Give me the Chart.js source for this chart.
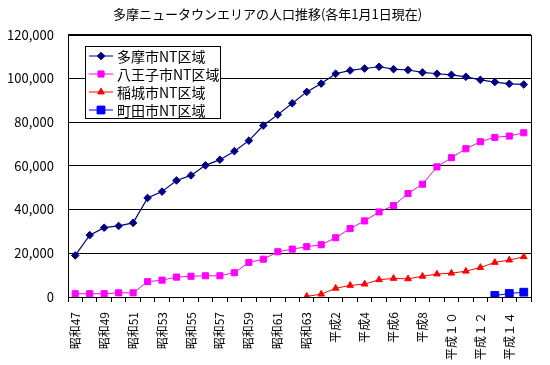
<!DOCTYPE html>
<html><head><meta charset="utf-8">
<script src="https://cdn.jsdelivr.net/npm/chart.js@4"></script>
<style>html,body{margin:0;padding:0;background:#fff}#wrap{width:550px;height:365px}</style>
</head><body><div id="wrap"><canvas id="c" width="550" height="365"></canvas></div>
<script>
const TITLE = "多摩ニュータウンエリアの人口推移(各年1月1日現在)";
const categories = ["昭和47","昭和48","昭和49","昭和50","昭和51","昭和52","昭和53","昭和54","昭和55","昭和56","昭和57","昭和58","昭和59","昭和60","昭和61","昭和62","昭和63","平成1","平成2","平成3","平成4","平成5","平成6","平成7","平成8","平成9","平成１０","平成１１","平成１２","平成１３","平成１４","平成１５"];
const tama = [19000,28300,31700,32500,33900,45300,48200,53300,55600,60200,62800,66700,71500,78400,83400,88600,93800,97600,102100,103600,104500,105300,104200,103800,102700,102100,101600,100700,99300,98300,97500,97200];
const hachioji = [1500,1500,1500,1900,1900,7000,7700,9100,9500,9700,9700,11100,15800,17300,20700,21900,23000,23900,27100,31300,34800,38900,41800,47300,51600,59500,63700,67800,71000,73000,73600,75100];
const inagi = [null,null,null,null,null,null,null,null,null,null,null,null,null,null,null,null,300,1300,4000,5300,5900,7900,8500,8300,9500,10500,10900,11800,13500,15800,16900,18400];
const machida = [null,null,null,null,null,null,null,null,null,null,null,null,null,null,null,null,null,null,null,null,null,null,null,null,null,null,null,null,null,700,1600,2200];
const seriesNames = ["多摩市NT区域","八王子市NT区域","稲城市NT区域","町田市NT区域"];
const yTicks = [0,20000,40000,60000,80000,100000,120000];

const FONT = "'Noto Sans CJK JP', sans-serif";

const legendBox = {
  id: 'legendBox',
  afterDraw(chart) {
    const ctx = chart.ctx;
    const x0 = 85.5, y0 = 46.5, w = 135, h = 72;
    ctx.save();
    ctx.fillStyle = '#fff';
    ctx.fillRect(x0, y0, w, h);
    ctx.strokeStyle = '#000';
    ctx.lineWidth = 1;
    ctx.strokeRect(x0, y0, w, h);
    ctx.font = "14px " + FONT;
    ctx.textBaseline = 'middle';
    chart.data.datasets.forEach((ds, i) => {
      const y = 56 + i * 18;
      ctx.strokeStyle = ds.borderColor;
      ctx.lineWidth = 1;
      ctx.beginPath(); ctx.moveTo(89, y); ctx.lineTo(113, y); ctx.stroke();
      Chart.helpers.drawPoint(ctx, {pointStyle: ds.pointStyle, radius: ds.pointRadius, borderWidth: 1, rotation: 0}, 101, y);
      ctx.fillStyle = ds.pointBackgroundColor;
      ctx.strokeStyle = ds.pointBackgroundColor;
      ctx.fill();
      ctx.fillStyle = '#000';
      ctx.fillText(ds.label, 117, y + 1);
    });
    ctx.restore();
  }
};
const frame = {
  id: 'frame',
  beforeDatasetsDraw(chart) {
    const a = chart.chartArea, ctx = chart.ctx;
    ctx.save();
    ctx.strokeStyle = '#000'; ctx.lineWidth = 1;
    ctx.strokeRect(Math.round(a.left) + 0.5, Math.round(a.top) + 0.5, Math.round(a.right - a.left), Math.round(a.bottom - a.top));
    ctx.restore();
  }
};

function ds(label, data, color, style, r, bw) {
  return {label, data, borderColor: color, backgroundColor: color, pointBackgroundColor: color,
    pointBorderColor: color, pointStyle: style, pointRadius: r, pointBorderWidth: 1,
    borderWidth: bw, tension: 0, spanGaps: false};
}

new Chart(document.getElementById('c'), {
  type: 'line',
  data: {
    labels: categories,
    datasets: [
      ds(seriesNames[0], tama, '#000080', 'rectRot', 3.8, 1.2),
      ds(seriesNames[1], hachioji, '#FF00FF', 'rect', 4.3, 1),
      ds(seriesNames[2], inagi, '#FF0000', 'triangle', 3.8, 1),
      ds(seriesNames[3], machida, '#0000FF', 'rect', 5.5, 1)
    ]
  },
  options: {
    responsive: false, animation: false, devicePixelRatio: 1,
    layout: {padding: {left: 4, right: 19, top: 0, bottom: 0}},
    plugins: {
      legend: {display: false},
      tooltip: {enabled: false},
      title: {display: true, text: TITLE, color: '#000', font: {family: FONT, size: 13, weight: 'normal'}, padding: {top: 6, bottom: 13}}
    },
    scales: {
      x: {
        offset: true,
        grid: {offset: true, drawOnChartArea: false, drawTicks: true, tickLength: 5, color: '#000'},
        border: {color: '#000', width: 1},
        ticks: {autoSkip: false, maxRotation: 90, minRotation: 90, color: '#000', padding: 10,
          font: {family: FONT, size: 12},
          callback: (v, i) => i % 2 === 0 ? categories[i] : ''},
        afterFit(s) { s.height = 68; }
      },
      y: {
        min: 0, max: 120000,
        afterBuildTicks(s) { s.ticks = yTicks.map(v => ({value: v})); },
        grid: {color: '#000', drawTicks: false, lineWidth: 1},
        border: {color: '#000', width: 1},
        ticks: {color: '#000', padding: 14, font: {family: FONT, size: 13},
          callback: v => v.toLocaleString('en-US')},
        afterFit(s) { s.width = 64; }
      }
    }
  },
  plugins: [frame, legendBox]
});
</script>
</body></html>
